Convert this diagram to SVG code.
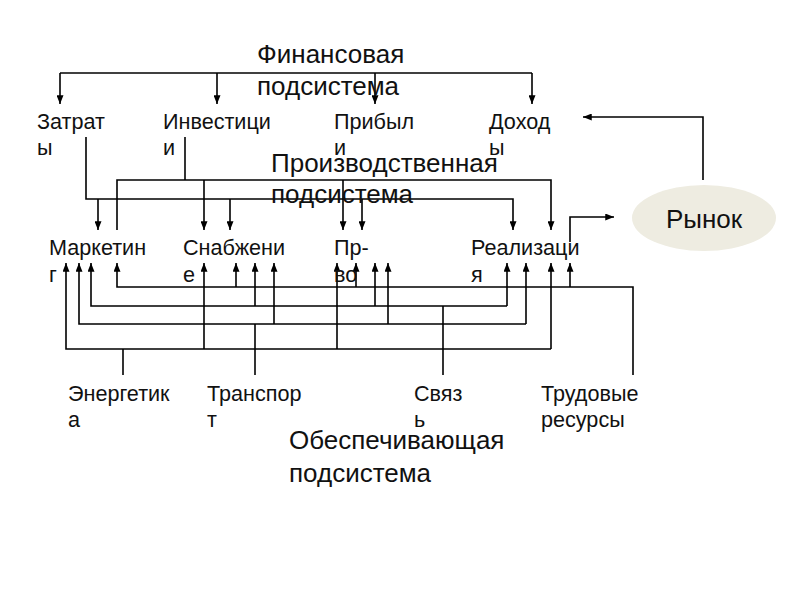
<svg xmlns="http://www.w3.org/2000/svg" width="800" height="600" viewBox="0 0 800 600">
<style>
text{font-family:"Liberation Sans",Arial,sans-serif;fill:#111}
.h{font-size:26px}
.n{font-size:21.6px}
.c{fill:none;stroke:#000;stroke-width:1.6}
.a{marker-end:url(#ar)}
</style>
<defs>
<marker id="ar" viewBox="0 0 10 8" refX="10" refY="4" markerWidth="9" markerHeight="7" markerUnits="userSpaceOnUse" orient="auto">
<path d="M0,0 L10,4 L0,8 Z" fill="#000"/>
</marker>
</defs>
<rect width="800" height="600" fill="#fff"/>
<g id="connectors">
<path class="c" d="M60,73 H532"/>
<path class="c a" d="M60,73 V104"/>
<path class="c a" d="M217,73 V104"/>
<path class="c a" d="M375,73 V104"/>
<path class="c a" d="M532,73 V104"/>
<path class="c a" d="M703,180 V117 H583"/>
<path class="c a" d="M86,137 V199 H513 V230"/>
<path class="c a" d="M98,199 V230"/>
<path class="c a" d="M230,199 V230"/>
<path class="c a" d="M362,199 V230"/>
<path class="c" d="M185,137 V180"/>
<path class="c a" d="M117,230 V180 H551 V230"/>
<path class="c a" d="M204,180 V230"/>
<path class="c a" d="M343,180 V230"/>
<path class="c a" d="M570,242 V217 H614"/>
<path class="c a" d="M633,375 V287 H117 V263"/>
<path class="c a" d="M236,287 V263"/>
<path class="c a" d="M356,287 V263"/>
<path class="c a" d="M570,287 V263"/>
<path class="c" d="M443,375 V306"/>
<path class="c a" d="M507,306 H91 V263"/>
<path class="c a" d="M507,306 V263"/>
<path class="c a" d="M255,306 V263"/>
<path class="c a" d="M375,306 V263"/>
<path class="c" d="M255,375 V324"/>
<path class="c a" d="M526,324 H79 V263"/>
<path class="c a" d="M526,324 V263"/>
<path class="c a" d="M274,324 V263"/>
<path class="c a" d="M388,324 V263"/>
<path class="c" d="M123,375 V349"/>
<path class="c a" d="M551,349 H66 V263"/>
<path class="c a" d="M551,349 V263"/>
<path class="c a" d="M204,349 V263"/>
<path class="c a" d="M337,349 V263"/>
</g>
<g id="fin-header"><text class="h" x="257" y="63">Финансовая</text><text class="h" x="257" y="95">подсистема</text></g>
<g id="zatraty"><text class="n" x="37" y="129">Затрат</text><text class="n" x="37" y="155">ы</text></g>
<g id="investicii"><text class="n" x="163" y="129">Инвестици</text><text class="n" x="163" y="155">и</text></g>
<g id="pribyli"><text class="n" x="334" y="129">Прибыл</text><text class="n" x="334" y="155">и</text></g>
<g id="dohody"><text class="n" x="489" y="129">Доход</text><text class="n" x="489" y="155">ы</text></g>
<g id="prod-header"><text class="h" x="271" y="172">Производственная</text><text class="h" x="271" y="203">подсистема</text></g>
<g id="marketing"><text class="n" x="49" y="255">Маркетин</text><text class="n" x="49" y="282">г</text></g>
<g id="snabzhenie"><text class="n" x="183" y="255">Снабжени</text><text class="n" x="183" y="282">е</text></g>
<g id="prvo"><text class="n" x="334" y="255">Пр-</text><text class="n" x="334" y="282">во</text></g>
<g id="realizacia"><text class="n" x="471" y="255">Реализаци</text><text class="n" x="471" y="282">я</text></g>
<g id="rynok"><ellipse cx="704" cy="218" rx="72" ry="33" fill="#EEECE1"/><text x="704" y="228" text-anchor="middle" style="font-size:26px">Рынок</text></g>
<g id="energetika"><text class="n" x="68" y="401">Энергетик</text><text class="n" x="68" y="427">а</text></g>
<g id="transport"><text class="n" x="207" y="401">Транспор</text><text class="n" x="207" y="427">т</text></g>
<g id="svyaz"><text class="n" x="414" y="401">Связ</text><text class="n" x="414" y="427">ь</text></g>
<g id="trudovye"><text class="n" x="541" y="401">Трудовые</text><text class="n" x="541" y="427">ресурсы</text></g>
<g id="obesp-header"><text class="h" x="289" y="449">Обеспечивающая</text><text class="h" x="289" y="482">подсистема</text></g>
</svg>
